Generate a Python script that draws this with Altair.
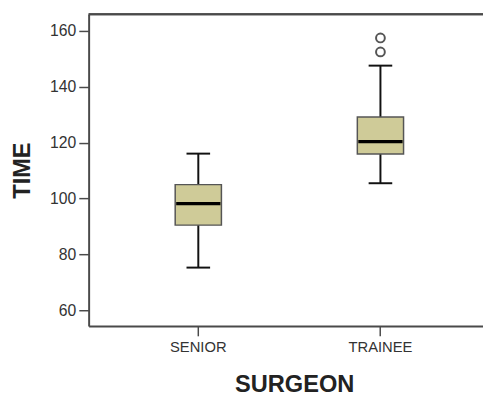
import altair as alt
import pandas as pd

categories = ["SENIOR", "TRAINEE"]
lower_whisker = [75.3, 105.5]
q1 = [90.5, 116.0]
median = [98.2, 120.4]
q3 = [105.0, 129.2]
upper_whisker = [116.1, 147.6]
outlier_cat = ["TRAINEE", "TRAINEE"]
outlier_val = [152.5, 157.5]
y_ticks = [60, 80, 100, 120, 140, 160]

box_df = pd.DataFrame({
    "SURGEON": categories,
    "lower": lower_whisker,
    "q1": q1,
    "median": median,
    "q3": q3,
    "upper": upper_whisker,
})
out_df = pd.DataFrame({"SURGEON": outlier_cat, "TIME": outlier_val})

W, H = 401, 317
FONT = "Liberation Sans"
FRAME = "#4a4a4a"

x_enc = alt.X(
    "SURGEON:N",
    sort=categories,
    scale=alt.Scale(paddingInner=0, paddingOuter=0.0826, align=0.618),
    axis=alt.Axis(
        title="SURGEON", labelAngle=0, labelFontSize=15, labelFont=FONT,
        labelColor="#333333", tickSize=10, tickColor=FRAME, tickWidth=1.5,
        labelPadding=4, domainColor=FRAME, domainWidth=2,
        titleFontSize=24, titleFont=FONT, titleFontWeight="bold",
        titleColor="#222222", titlePadding=19, titleX=209,
    ),
)
y_scale = alt.Scale(domain=[54.4, 166], nice=False, zero=False)
y_axis = alt.Axis(
    title="TIME", values=y_ticks, labelFontSize=16, labelFont=FONT,
    labelColor="#333333", tickSize=10, tickColor=FRAME, tickWidth=1.5,
    labelPadding=3, domainColor=FRAME, domainWidth=2, grid=False,
    titleFontSize=24, titleFont=FONT, titleFontWeight="bold",
    titleColor="#222222", titlePadding=15,
)

base = alt.Chart(box_df)

whisker = base.mark_rule(color="#111111", strokeWidth=2, opacity=1).encode(
    x=x_enc,
    y=alt.Y("lower:Q", scale=y_scale, axis=y_axis),
    y2="upper:Q",
)
cap_low = base.mark_tick(color="#111111", thickness=2, size=24, opacity=1).encode(
    x=alt.X("SURGEON:N", sort=categories), y=alt.Y("lower:Q")
)
cap_up = base.mark_tick(color="#111111", thickness=2, size=24, opacity=1).encode(
    x=alt.X("SURGEON:N", sort=categories), y=alt.Y("upper:Q")
)
box = base.mark_bar(size=47, color="#CFCB98", stroke="#555555", strokeWidth=1.5, opacity=1).encode(
    x=alt.X("SURGEON:N", sort=categories), y=alt.Y("q1:Q"), y2="q3:Q"
)
med = base.mark_tick(color="#000000", thickness=3.5, size=45, opacity=1).encode(
    x=alt.X("SURGEON:N", sort=categories), y=alt.Y("median:Q")
)
outliers = alt.Chart(out_df).mark_point(
    shape="circle", filled=False, size=80, stroke="#555555", strokeWidth=2, opacity=1
).encode(x=alt.X("SURGEON:N", sort=categories), y=alt.Y("TIME:Q"))

top_line = alt.Chart(box_df).mark_rule(color=FRAME, strokeWidth=2).encode(
    x=alt.value(0), x2=alt.value(W), y=alt.value(0)
)

chart = alt.layer(whisker, cap_low, cap_up, box, med, outliers, top_line).properties(
    width=W, height=H,
    autosize=alt.AutoSizeParams(type="none"),
    padding={"left": 82, "top": 3, "right": 0, "bottom": 76},
).configure_view(fill="#EBEBEB", stroke=None).configure(background="white")

chart.save("out.html", embed_options={"renderer": "svg", "actions": False})
